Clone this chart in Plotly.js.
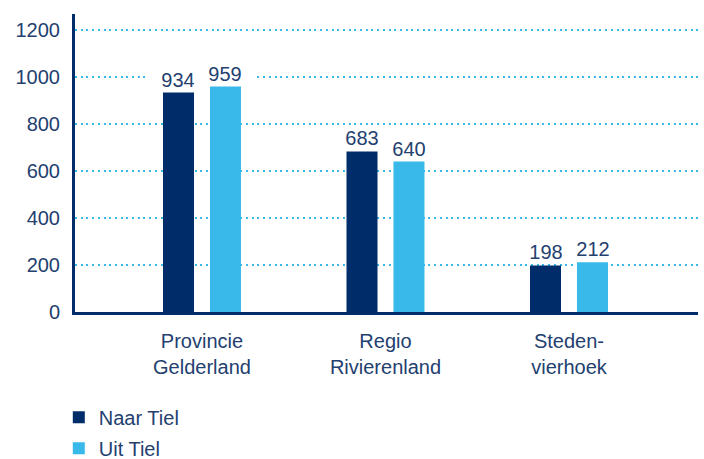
<!DOCTYPE html>
<html>
<head>
<meta charset="utf-8">
<script src="https://cdn.plot.ly/plotly-3.0.1.min.js"></script>
<style>html,body{margin:0;padding:0;background:#fff;}#chart{width:704px;height:459px;}</style>
</head>
<body>
<div id="chart"></div>
<script>
var categories = ["Provincie<br>Gelderland", "Regio<br>Rivierenland", "Steden-<br>vierhoek"];
var naarTiel = [934, 683, 198];
var uitTiel = [959, 640, 212];
var seriesNames = ["Naar Tiel", "Uit Tiel"];
var yTicks = [0, 200, 400, 600, 800, 1000, 1200];

var navy = "#002d6a";
var light = "#38b9ea";
var textCol = "#23406f";
var font = {family: "Liberation Sans, Arial, sans-serif", size: 20, color: textCol};

var traces = [
  {type: "bar", name: seriesNames[0], legendgroup: "a", x: categories, y: naarTiel, marker: {color: navy}, hoverinfo: "skip"},
  {type: "bar", name: seriesNames[1], legendgroup: "b", x: categories, y: uitTiel, marker: {color: light}, hoverinfo: "skip"}
];

var annotations = [];
[naarTiel, uitTiel].forEach(function (vals, s) {
  vals.forEach(function (v, i) {
    annotations.push({
      x: categories[i], y: v, xref: "x", yref: "y",
      text: String(v), showarrow: false,
      xanchor: "center", yanchor: "bottom",
      xshift: s === 0 ? -23.5 : 23.5, yshift: 1,
      bgcolor: "#ffffff", borderpad: 0, width: 60,
      font: font
    });
  });
});

var layout = {
  width: 704, height: 459,
  margin: {l: 75, r: 6, t: 14, b: 147, autoexpand: false},
  paper_bgcolor: "#ffffff", plot_bgcolor: "#ffffff",
  font: font,
  barmode: "group", bargap: 0.488, bargroupgap: 0.34,
  showlegend: true,
  legend: {
    x: -0.026, xanchor: "left", y: -0.2875, yanchor: "top",
    orientation: "v", font: font, bgcolor: "rgba(0,0,0,0)",
    traceorder: "grouped", tracegroupgap: 2,
    itemclick: false, itemdoubleclick: false
  },
  xaxis: {
    range: [-0.692, 2.703], showgrid: false, zeroline: false,
    showline: true, linecolor: navy, linewidth: 3,
    ticks: "", ticklabelstandoff: 9, tickfont: font, fixedrange: true
  },
  yaxis: {
    range: [0, 1268], tickvals: yTicks, ticktext: yTicks.map(String),
    showgrid: true, gridcolor: light, gridwidth: 2, griddash: "2px,3.7px",
    zeroline: false, showline: true, linecolor: navy, linewidth: 3,
    ticks: "", ticklabelstandoff: 8, tickfont: font, fixedrange: true
  },
  annotations: annotations
};

Plotly.newPlot("chart", traces, layout, {displayModeBar: false, staticPlot: true});
</script>
</body>
</html>
